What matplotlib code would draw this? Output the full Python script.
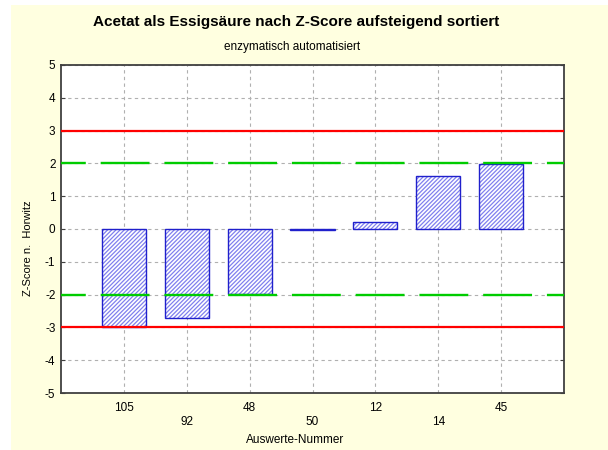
import matplotlib
matplotlib.use("Agg")
import matplotlib.pyplot as plt
from matplotlib.patches import Rectangle

plt.rcParams['font.family'] = ['Liberation Sans', 'DejaVu Sans']

# Data
labels = ["105", "92", "48", "50", "12", "14", "45"]
z_scores = [-3.0, -2.7, -1.97, -0.02, 0.2, 1.62, 1.97]
warn_limits = [-2, 2]
action_limits = [-3, 3]
y_ticks = [-5, -4, -3, -2, -1, 0, 1, 2, 3, 4, 5]

fig = plt.figure(figsize=(6.08, 4.5), dpi=100)
fig.patch.set_facecolor('white')
fig.patches.append(Rectangle((11 / 608, 0), 1 - 11 / 608, 1 - 5 / 450,
                             transform=fig.transFigure, facecolor='#ffffe0',
                             edgecolor='none', zorder=-10))

ax = fig.add_axes([61 / 608, 57 / 450, 503 / 608, 328 / 450])
ax.set_facecolor('white')

x = list(range(1, len(labels) + 1))
ax.set_xlim(0, len(labels) + 1)
ax.set_ylim(-5, 5)

# grid
for gx in range(1, len(labels) + 1):
    ax.axvline(gx, color='#b0b0b0', lw=0.8, ls=(0, (3, 3)), zorder=0)
for gy in y_ticks:
    ax.axhline(gy, color='#b0b0b0', lw=0.8, ls=(0, (3, 3)), zorder=0)

# hatched bars: fine light-blue hatch plus a darker outline
plt.rcParams['hatch.linewidth'] = 0.9
ax.bar(x, z_scores, width=0.7, facecolor='white', edgecolor='#8080ee',
       hatch='////////', lw=0, zorder=2)
ax.bar(x, z_scores, width=0.7, facecolor='none', edgecolor='#2020cc',
       lw=1.0, zorder=2.5)

for lim in warn_limits:
    ax.axhline(lim, color='#00cc00', lw=1.7, ls=(10.2, (20.7, 6.3)), zorder=3)
for lim in action_limits:
    ax.axhline(lim, color='#ff0000', lw=1.6, zorder=3)

ax.set_yticks(y_ticks)
ax.set_yticklabels([str(v) for v in y_ticks], fontsize=8.5)
ax.set_xticks(x)
ax.set_xticklabels([])
for i, (xi, lab) in enumerate(zip(x, labels)):
    off = -0.045 if i % 2 == 0 else -0.088
    ax.text(xi, off, lab, transform=ax.get_xaxis_transform(), ha='center',
            va='center', fontsize=8.5)

ax.tick_params(axis='both', length=0, pad=4)
ax.tick_params(axis='y', right=True, length=3, direction='in', color='#404040')
for s in ax.spines.values():
    s.set_color('#404040')
    s.set_linewidth(1.3)

fig.text(296 / 608, 1 - 22 / 450, "Acetat als Essigsäure nach Z-Score aufsteigend sortiert",
         ha='center', va='center', fontsize=11, fontweight='bold')
fig.text(292 / 608, 1 - 47 / 450, "enzymatisch automatisiert", ha='center', va='center',
         fontsize=8.5)
fig.text(28 / 608, 1 - 248 / 450, "Z-Score n.  Horwitz", rotation=90, ha='center',
         va='center', fontsize=8)
fig.text(295 / 608, 1 - 440 / 450, "Auswerte-Nummer", ha='center', va='center',
         fontsize=8.5)

fig.savefig("out.png", dpi=100, facecolor=fig.get_facecolor())
